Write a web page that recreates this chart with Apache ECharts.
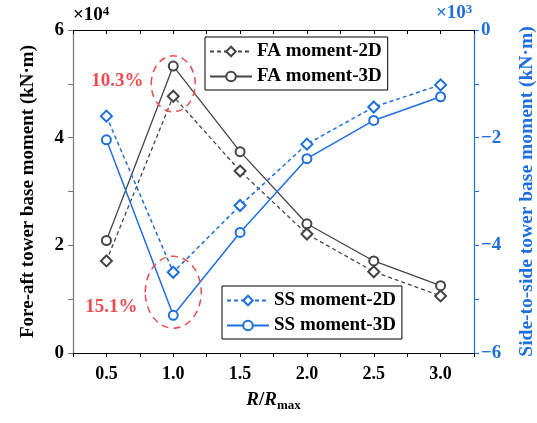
<!DOCTYPE html>
<html>
<head>
<meta charset="utf-8">
<script src="https://cdn.jsdelivr.net/npm/echarts@6/dist/echarts.min.js"></script>
<style>
  html, body { margin: 0; padding: 0; background: #fff; }
  #chart { width: 537px; height: 423px; }
</style>
</head>
<body>
<div id="chart"></div>
<script>
const ratio = [0.5, 1.0, 1.5, 2.0, 2.5, 3.0];
// fore-aft moment, x10^4 kN·m
const fa2d = [1.71, 4.77, 3.38, 2.21, 1.51, 1.06];
const fa3d = [2.09, 5.33, 3.74, 2.40, 1.71, 1.25];
// side-to-side moment, x10^3 kN·m
const ss2d = [-1.60, -4.50, -3.26, -2.12, -1.43, -1.02];
const ss3d = [-2.04, -5.30, -3.76, -2.39, -1.68, -1.24];

const FONT = 'Liberation Serif';
const BLUE = '#1f6fdc';
const GRAY = '#454545';
const RED = '#ec4b4f';

const pairs = (ys) => ratio.map((x, i) => [x, ys[i]]);

const chart = echarts.init(document.getElementById('chart'));

const legendBase = {
  orient: 'vertical',
  itemWidth: 42,
  itemHeight: 12,
  itemGap: 6,
  padding: [5, 6, 4, 4],
  borderColor: '#000',
  borderWidth: 1,
  borderRadius: 0,
  textStyle: { fontFamily: FONT, fontWeight: 'bold', fontSize: 19, color: '#000' }
};

const option = {
  backgroundColor: '#fff',
  animation: false,
  textStyle: { fontFamily: FONT, fontWeight: 'bold' },
  grid: { left: 73, right: 63, top: 30, bottom: 70, outerBoundsMode: 'none' },
  legend: [
    Object.assign({ data: ['FA moment-2D', 'FA moment-3D'], left: 205, top: 37 }, legendBase),
    Object.assign({ data: ['SS moment-2D', 'SS moment-3D'], left: 222, top: 286 }, legendBase)
  ],
  xAxis: [
    {
      type: 'value',
      min: 0.25,
      max: 3.25,
      interval: 0.25,
      position: 'bottom',
      name: '{i|R}{n|/}{i|R}{s|max}',
      nameLocation: 'middle',
      nameGap: 36,
      nameTextStyle: {
        rich: {
          i: { fontFamily: FONT, fontStyle: 'italic', fontWeight: 'bold', fontSize: 19, color: '#000' },
          n: { fontFamily: FONT, fontWeight: 'bold', fontSize: 19, color: '#000' },
          s: { fontFamily: FONT, fontWeight: 'bold', fontSize: 13, color: '#000', verticalAlign: 'bottom', padding: [10, 0, 0, 0] }
        }
      },
      axisLine: { onZero: false, lineStyle: { color: '#000', width: 1.2 } },
      axisTick: { inside: false, length: 4, lineStyle: { color: '#000' } },
      axisLabel: {
        fontFamily: FONT, fontWeight: 'bold', fontSize: 18, color: '#000', margin: 12,
        formatter: (v) => (Math.abs(v * 2 - Math.round(v * 2)) < 1e-6 ? v.toFixed(1) : '')
      },
      splitLine: { show: false }
    },
    {
      type: 'value',
      min: 0.25,
      max: 3.25,
      interval: 0.25,
      position: 'top',
      axisLine: { onZero: false, lineStyle: { color: '#000', width: 1.2 } },
      axisTick: { inside: true, length: 4, lineStyle: { color: '#000' } },
      axisLabel: { show: false },
      splitLine: { show: false }
    }
  ],
  yAxis: [
    {
      type: 'value',
      min: 0,
      max: 6,
      interval: 2,
      position: 'left',
      name: 'Fore-aft tower base moment (kN·m)',
      nameLocation: 'middle',
      nameRotate: 90,
      nameGap: 35,
      nameTextStyle: { fontFamily: FONT, fontWeight: 'bold', fontSize: 19, color: '#000' },
      axisLine: { show: true, onZero: false, lineStyle: { color: '#777', width: 1.2 } },
      axisTick: { show: true, inside: false, length: 5, lineStyle: { color: '#777' } },
      minorTick: { show: true, splitNumber: 2, length: 5, lineStyle: { color: '#777' } },
      axisLabel: { fontFamily: FONT, fontWeight: 'bold', fontSize: 19, color: '#000', margin: 9 },
      splitLine: { show: false }
    },
    {
      type: 'value',
      min: -6,
      max: 0,
      interval: 2,
      position: 'right',
      name: 'Side-to-side tower base moment (kN·m)',
      nameLocation: 'middle',
      nameRotate: 90,
      nameGap: 43,
      nameTextStyle: { fontFamily: FONT, fontWeight: 'bold', fontSize: 19.5, color: BLUE },
      axisLine: { show: true, onZero: false, lineStyle: { color: BLUE, width: 1.2 } },
      axisTick: { show: true, inside: false, length: 5, lineStyle: { color: BLUE } },
      minorTick: { show: true, splitNumber: 2, length: 5, lineStyle: { color: BLUE } },
      axisLabel: {
        fontFamily: FONT, fontWeight: 'bold', fontSize: 19, color: BLUE, margin: 7,
        formatter: (v) => (v < 0 ? '\u2212' + Math.abs(v) : String(v))
      },
      splitLine: { show: false }
    }
  ],
  series: [
    {
      name: 'FA moment-2D', type: 'line', xAxisIndex: 0, yAxisIndex: 0,
      data: pairs(fa2d),
      symbol: 'emptyDiamond', symbolSize: 11,
      lineStyle: { color: GRAY, width: 1.3, type: [4, 3] },
      itemStyle: { color: GRAY, borderWidth: 1.3 }
    },
    {
      name: 'FA moment-3D', type: 'line', xAxisIndex: 0, yAxisIndex: 0,
      data: pairs(fa3d),
      symbol: 'emptyCircle', symbolSize: 9,
      lineStyle: { color: GRAY, width: 1.3 },
      itemStyle: { color: GRAY, borderWidth: 1.3 }
    },
    {
      name: 'SS moment-2D', type: 'line', xAxisIndex: 0, yAxisIndex: 1,
      data: pairs(ss2d),
      symbol: 'emptyDiamond', symbolSize: 11,
      lineStyle: { color: BLUE, width: 1.5, type: [4, 3] },
      itemStyle: { color: BLUE, borderWidth: 1.5 }
    },
    {
      name: 'SS moment-3D', type: 'line', xAxisIndex: 0, yAxisIndex: 1,
      data: pairs(ss3d),
      symbol: 'emptyCircle', symbolSize: 9,
      lineStyle: { color: BLUE, width: 1.5 },
      itemStyle: { color: BLUE, borderWidth: 1.5 }
    }
  ]
};

chart.setOption(option);

// annotation ellipses around the extreme points at R/Rmax = 1.0
const c1 = chart.convertToPixel({ xAxisIndex: 0, yAxisIndex: 0 }, [1.0, 5.0]);
const c2 = chart.convertToPixel({ xAxisIndex: 0, yAxisIndex: 1 }, [1.0, -4.87]);

chart.setOption({
  graphic: [
    {
      type: 'ellipse', shape: { cx: c1[0], cy: c1[1], rx: 22, ry: 28 },
      style: { fill: 'none', stroke: RED, lineWidth: 1.5, lineDash: [7, 5] }, z: 10
    },
    {
      type: 'ellipse', shape: { cx: c2[0], cy: c2[1], rx: 28, ry: 36 },
      style: { fill: 'none', stroke: RED, lineWidth: 1.5, lineDash: [7, 5] }, z: 10
    },
    {
      type: 'text', left: c1[0] - 82, top: c1[1] - 12,
      style: { text: '10.3%', fill: RED, font: 'bold 19px ' + FONT }, z: 10
    },
    {
      type: 'text', left: c2[0] - 88, top: c2[1] + 5,
      style: { text: '15.1%', fill: RED, font: 'bold 19px ' + FONT }, z: 10
    },
    {
      type: 'text', left: 73, top: 5,
      style: {
        text: '{a|×10}{b|4}',
        rich: {
          a: { fontFamily: FONT, fontWeight: 'bold', fontSize: 19, fill: '#000' },
          b: { fontFamily: FONT, fontWeight: 'bold', fontSize: 13, fill: '#000', verticalAlign: 'top', padding: [0, 0, 8, 0] }
        }
      }
    },
    {
      type: 'text', left: 436, top: 3,
      style: {
        text: '{a|×10}{b|3}',
        rich: {
          a: { fontFamily: FONT, fontWeight: 'bold', fontSize: 19, fill: BLUE },
          b: { fontFamily: FONT, fontWeight: 'bold', fontSize: 13, fill: BLUE, verticalAlign: 'top', padding: [0, 0, 8, 0] }
        }
      }
    }
  ]
});
</script>
</body>
</html>
